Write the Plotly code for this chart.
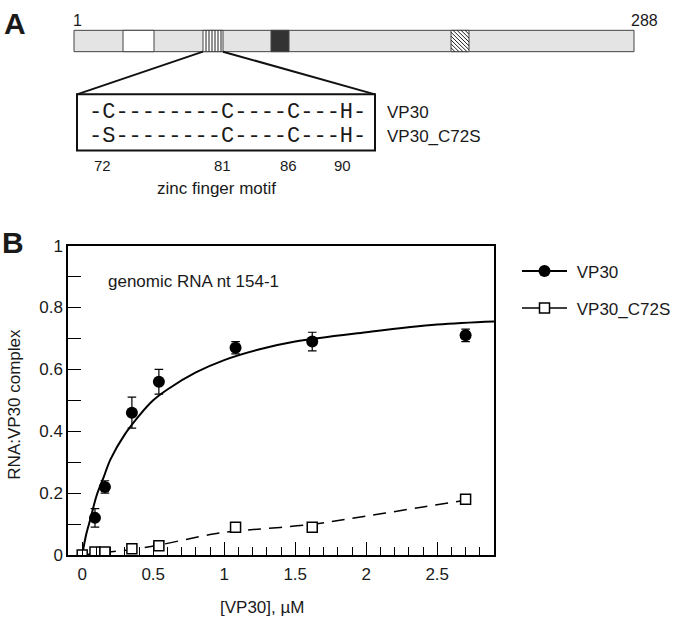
import plotly.graph_objects as go

##### Data #####

# binding data, panel B
conc_vp30 = [0.09, 0.16, 0.35, 0.54, 1.08, 1.62, 2.7]
bound_vp30 = [0.12, 0.22, 0.46, 0.56, 0.67, 0.69, 0.71]
err_vp30 = [0.03, 0.02, 0.05, 0.04, 0.02, 0.03, 0.02]

conc_c72s = [0, 0.09, 0.16, 0.35, 0.54, 1.08, 1.62, 2.7]
bound_c72s = [0, 0.01, 0.01, 0.02, 0.03, 0.09, 0.09, 0.18]
err_c72s = [0, 0.004, 0.004, 0.006, 0.006, 0.014, 0.014, 0.014]

# fitted curves
fit_x = [0, 0.03, 0.06, 0.1, 0.15, 0.2, 0.3, 0.4, 0.5, 0.6, 0.8, 1.0, 1.25, 1.5, 2.0, 2.5, 2.9]
fit_y = [0, 0.07, 0.12, 0.19, 0.25, 0.31, 0.39, 0.45, 0.50, 0.535, 0.59, 0.63, 0.665, 0.69, 0.72, 0.745, 0.755]

dash_x = [0, 0.16, 0.35, 0.54, 0.9, 1.1, 1.6, 2.0, 2.4, 2.7]
dash_y = [0, 0.008, 0.018, 0.032, 0.066, 0.078, 0.098, 0.126, 0.155, 0.177]

# panel A, protein map (pixel layout of the drawing)
W, H = 680, 629
bar = (74, 634, 22, 44)
domains = [(123, 154, "white"), (203, 223, "vstripe"), (271, 289, "dark"), (451, 469, "hatch")]
zoom_box = (77, 375, 88, 146)
motif_rows = ["-C--------C----C---H-", "-S--------C----C---H-"]
motif_names = ["VP30", "VP30_C72S"]
residue_labels = ["72", "81", "86", "90"]
residue_px = [102, 222, 288, 342]

TXT = "#1a1a1a"
SANS = "Liberation Sans, Arial, sans-serif"


def px(x):
    return x / W


def py(y):
    return 1 - y / H


shapes = []


def rect(x0, x1, y0, y1, fill, lw=1, color="#444"):
    shapes.append(dict(type="rect", xref="paper", yref="paper",
                       x0=px(x0), x1=px(x1), y0=py(y0), y1=py(y1),
                       fillcolor=fill, opacity=1, line=dict(color=color, width=lw)))


def seg(x0, y0, x1, y1, lw=1, color="#222"):
    shapes.append(dict(type="line", xref="paper", yref="paper",
                       x0=px(x0), x1=px(x1), y0=py(y0), y1=py(y1),
                       opacity=1, line=dict(color=color, width=lw)))


bx0, bx1, by0, by1 = bar
rect(bx0, bx1, by0, by1, "#e4e4e4")
for d0, d1, kind in domains:
    if kind == "white":
        rect(d0, d1, by0, by1, "white")
    elif kind == "dark":
        rect(d0, d1, by0, by1, "#333333")
    elif kind == "vstripe":
        rect(d0, d1, by0, by1, "white")
        xx = d0 + 3
        while xx < d1:
            seg(xx, by0, xx, by1, 1)
            xx += 3
    else:
        rect(d0, d1, by0, by1, "white")
        w, h = d1 - d0, by1 - by0
        c = -h
        while c < w:
            sx, sy = d0 + c, by0
            ex, ey = d0 + c + h, by1
            if c < 0:
                sx, sy = d0, by0 - c
            if c + h > w:
                ex, ey = d1, by0 + (w - c)
            seg(sx, sy, ex, ey, 1)
            c += 4

zx0, zx1, zy0, zy1 = zoom_box
seg(203, by1, zx0, zy0, 2, "#111")
seg(223, by1, zx1, zy0, 2, "#111")
rect(zx0, zx1, zy0, zy1, "rgba(0,0,0,0)", 2, "#111")

annotations = []


def label(x, y, text, size=17, anchor="center", family=SANS, angle=0):
    annotations.append(dict(x=px(x), y=py(y), xref="paper", yref="paper", text=text,
                            showarrow=False, xanchor=anchor, yanchor="middle",
                            textangle=angle, font=dict(size=size, family=family, color=TXT)))


label(15, 15, "<b>A</b>", 30)
label(13, 241, "<b>B</b>", 30)
label(71, 12, "1", 16, "left")
label(660, 12, "288", 16, "right")
for i, row in enumerate(motif_rows):
    yy = 107 + 24 * i
    label(228, yy, row, 22, family="Liberation Mono, Courier New, monospace")
    label(385, yy, motif_names[i], 17, "left")
for t, xx in zip(residue_labels, residue_px):
    label(xx, 161, t, 15)
label(217, 185, "zinc finger motif", 17)

label(106, 281, "genomic RNA nt 154-1", 17, "left")
label(262, 617, "[VP30], µM", 17)
label(15, 408, "RNA:VP30 complex", 17, angle=-90)

##### Figure #####

fig = go.Figure()

fig.add_trace(go.Scatter(x=fit_x, y=fit_y, mode="lines", showlegend=False,
                         line=dict(color="black", width=2, shape="spline")))
fig.add_trace(go.Scatter(x=dash_x, y=dash_y, mode="lines", showlegend=False,
                         line=dict(color="black", width=1.5, dash="13px,8px", shape="spline")))
fig.add_trace(go.Scatter(x=conc_vp30, y=bound_vp30, mode="markers", showlegend=False,
                         marker=dict(symbol="circle", size=12, color="black"),
                         error_y=dict(type="data", array=err_vp30, color="black", thickness=1.2, width=4.3)))
fig.add_trace(go.Scatter(x=conc_c72s, y=bound_c72s, mode="markers", showlegend=False,
                         marker=dict(symbol="square", size=10, color="white", line=dict(color="black", width=1.5)),
                         error_y=dict(type="data", array=err_c72s, color="black", thickness=1.2, width=4.3)))

# legend entries
fig.add_trace(go.Scatter(x=[None], y=[None], mode="lines+markers", name="&#160;VP30", legendgroup="a",
                         line=dict(color="black", width=2),
                         marker=dict(symbol="circle", size=12, color="black")))
fig.add_trace(go.Scatter(x=[None], y=[None], mode="lines+markers", name="&#160;VP30_C72S", legendgroup="b",
                         line=dict(color="black", width=1.5),
                         marker=dict(symbol="square", size=10, color="white", line=dict(color="black", width=1.5))))

fig.update_layout(
    width=W, height=H,
    margin=dict(l=0, r=0, t=0, b=0),
    paper_bgcolor="white", plot_bgcolor="rgba(0,0,0,0)",
    font=dict(family=SANS, color=TXT),
    legend=dict(x=px(517), y=py(252), xanchor="left", yanchor="top", itemwidth=45,
                font=dict(size=17, family=SANS, color=TXT), bgcolor="rgba(0,0,0,0)",
                traceorder="grouped", tracegroupgap=12),
    shapes=shapes,
    annotations=annotations,
)
fig.update_xaxes(domain=[px(68), px(494)], range=[-0.1, 2.9], tick0=0, dtick=0.5,
                 showline=True, mirror=True, linecolor="black", linewidth=1.5,
                 showgrid=False, zeroline=False,
                 ticks="inside", ticklen=13, tickwidth=1.3, tickcolor="black",
                 ticklabelstandoff=3,
                 tickfont=dict(size=17, family=SANS, color=TXT),
                 minor=dict(ticks="inside", ticklen=8, dtick=0.1, tickwidth=1.3, tickcolor="black"))
fig.update_yaxes(domain=[py(563), py(244)], range=[0, 1], tick0=0, dtick=0.2,
                 showline=True, mirror=True, linecolor="black", linewidth=1.5,
                 showgrid=False, zeroline=False,
                 ticks="inside", ticklen=13, tickwidth=1.3, tickcolor="black",
                 tickfont=dict(size=17, family=SANS, color=TXT),
                 minor=dict(ticks="inside", ticklen=13, dtick=0.1, tickwidth=1.3, tickcolor="black"))

fig.write_html("out.html", config={"displayModeBar": False},
               post_script="document.body.style.margin = '0';")
